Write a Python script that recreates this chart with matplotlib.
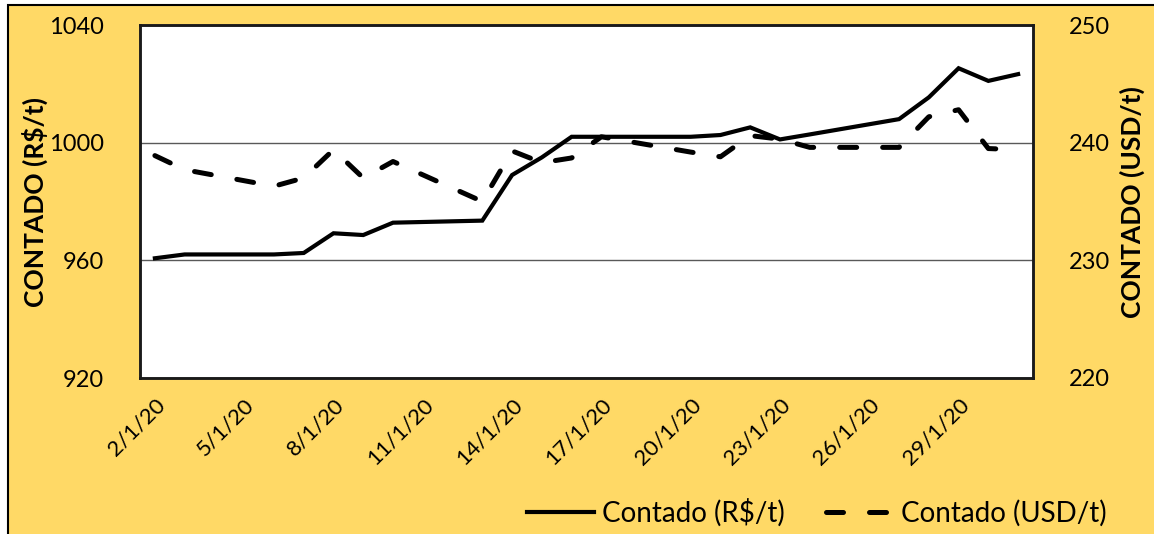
import matplotlib
matplotlib.use('Agg')
import matplotlib.pyplot as plt
from matplotlib.patches import Rectangle

plt.rcParams['font.family'] = ['Lato', 'DejaVu Sans']

# trading days of January 2020 (day of month)
days = [2, 3, 6, 7, 8, 9, 10, 13, 14, 15, 16, 17, 20, 21, 22, 23, 24, 27, 28, 29, 30, 31]
contado_brl = [960.7, 962.0, 962.0, 962.5, 969.2, 968.6, 972.8, 973.5, 989.0, 995.0, 1002.0,
               1002.0, 1002.0, 1002.6, 1005.2, 1001.1, 1002.8, 1008.0, 1015.4, 1025.3, 1021.0, 1023.3]
contado_usd = [238.9, 237.7, 236.3, 237.0, 239.4, 237.0, 238.4, 235.0, 239.3, 238.3, 238.7,
               240.5, 239.2, 238.8, 240.6, 240.3, 239.6, 239.6, 242.2, 242.8, 239.5, 239.4]
tick_days = [2, 5, 8, 11, 14, 17, 20, 23, 26, 29]
tick_labels = [f'{d}/1/20' for d in tick_days]

W, H = 1154, 534
fig = plt.figure(figsize=(W / 100, H / 100), dpi=100, facecolor='white')

# yellow chart background with black border
fig.patches.append(Rectangle((8 / W, -0.02), 1.05, 1 - 5 / H + 0.02,
                             transform=fig.transFigure, facecolor='#FFD966',
                             edgecolor='black', linewidth=1.5, zorder=-5))

ax = fig.add_axes([140 / W, 1 - 378 / H, (1033 - 140) / W, (378 - 25) / H])
ax.set_facecolor('white')
ax2 = ax.twinx()

ax.plot(days, contado_brl, color='black', linewidth=3, solid_joinstyle='miter',
        label='Contado (R$/t)', zorder=3)
ax2.plot(days, contado_usd, color='black', linewidth=3.6, dashes=(3.4, 5.2),
         dash_capstyle='round', label='Contado (USD/t)', zorder=3)

ax.set_xlim(1.5, 31.5)
ax.set_ylim(920, 1040)
ax.set_yticks([920, 960, 1000, 1040])
ax2.set_ylim(220, 250)
ax2.set_yticks([220, 230, 240, 250])

ax.set_xticks(tick_days)
ax.set_xticklabels(tick_labels, rotation=45, ha='right', va='top',
                   rotation_mode='anchor', fontsize=16)
ax.tick_params(axis='x', length=0, pad=12)
ax.tick_params(axis='y', length=0, pad=26, labelsize=17)
ax2.tick_params(axis='y', length=0, pad=26, labelsize=17)

ax.grid(axis='y', color='#595959', linewidth=1)
ax.set_axisbelow(True)
for a in (ax, ax2):
    for s in a.spines.values():
        s.set_linewidth(1.8)
        s.set_color('#1a1a1a')

fig.text(35 / W, 1 - 202 / H, 'CONTADO (R$/t)', rotation=90, ha='center', va='center',
         fontsize=19, fontweight='bold')
fig.text(1132 / W, 1 - 202 / H, 'CONTADO (USD/t)', rotation=90, ha='center', va='center',
         fontsize=19, fontweight='bold')

h1, l1 = ax.get_legend_handles_labels()
h2, l2 = ax2.get_legend_handles_labels()
fig.legend(h1 + h2, l1 + l2, loc='center right', bbox_to_anchor=(1107 / W, 1 - 513 / H),
           ncol=2, frameon=False, fontsize=20, handlelength=2.4, handletextpad=0.3,
           columnspacing=1.5, borderaxespad=0, borderpad=0)

plt.savefig('out.png', dpi=100, facecolor='white')
